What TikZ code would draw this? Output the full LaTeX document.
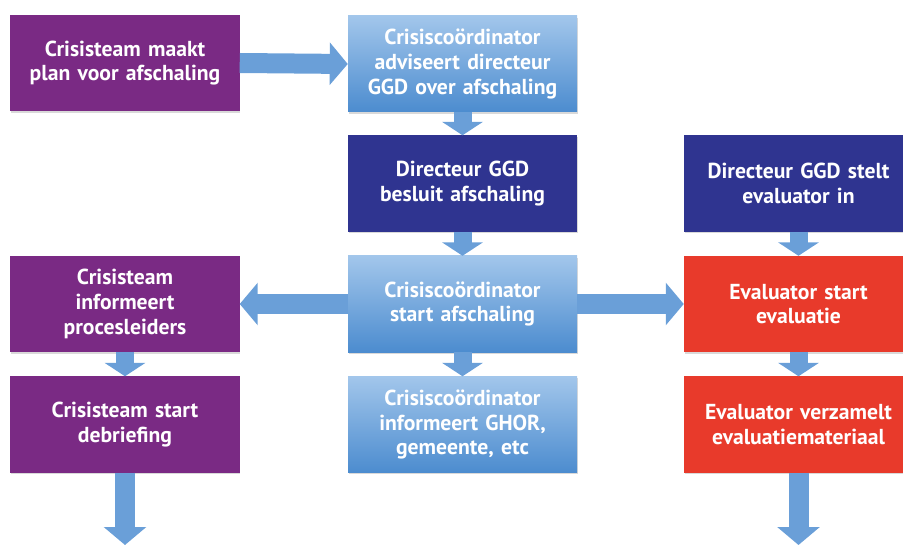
\documentclass[tikz,border=0pt]{standalone}
\usepackage{fontspec}
\setmainfont{PT Sans}
\usetikzlibrary{arrows.meta,shadows}

\definecolor{teampaars}{HTML}{7A2A84}
\definecolor{ggdblauw}{HTML}{2F3490}
\definecolor{evalrood}{HTML}{E83A2B}
\definecolor{coordboven}{HTML}{A2C6EB}
\definecolor{coordonder}{HTML}{4C8CCF}
\definecolor{pijlblauw}{HTML}{6A9FD8}

\tikzset{
  blok/.style={minimum width=6.87cm, minimum height=2.88cm, inner sep=0pt,
    text width=6.6cm, align=center, text=white,
    font=\bfseries\fontsize{18.5}{21}\selectfont,
    drop shadow={shadow xshift=0.5pt, shadow yshift=-1.5pt, opacity=.3}},
  team/.style={blok, fill=teampaars},
  directeur/.style={blok, fill=ggdblauw},
  evaluator/.style={blok, fill=evalrood},
  coord/.style={blok, top color=coordboven, bottom color=coordonder},
  pijl/.style={line width=0.6cm, draw=pijlblauw, -{Triangle[length=0.54cm,width=1.25cm]}},
  pijlkort/.style={line width=0.54cm, draw=pijlblauw, -{Triangle[length=0.4cm,width=1.2cm]}}
}

\begin{document}
\begin{tikzpicture}[x=0.03cm,y=-0.03cm]
 \useasboundingbox (0,0) rectangle (903,545);

 % linker kolom
 \node[team] (plan) at (125,63) {Crisisteam maakt\\plan voor afschaling};
 \node[team] (informeert) at (125,304) {Crisisteam\\informeert\\procesleiders};
 \node[team] (debriefing) at (125,424.5) {Crisisteam start\\debriefing};

 % middelste kolom
 \node[coord] (advies) at (462.5,64) {Crisiscoördinator\\adviseert directeur\\GGD over afschaling};
 \node[directeur] (besluit) at (462.5,183.5) {Directeur GGD\\besluit afschaling};
 \node[coord] (start) at (462.5,304) {Crisiscoördinator\\start afschaling};
 \node[coord] (ghor) at (462.5,424.5) {Crisiscoördinator\\informeert GHOR,\\gemeente, etc};

 % rechter kolom
 \node[directeur] (stelt) at (798.5,183.5) {Directeur GGD stelt\\evaluator in};
 \node[evaluator] (evaluatie) at (798.5,304) {Evaluator start\\evaluatie};
 \node[evaluator] (materiaal) at (798.5,424.5) {Evaluator verzamelt\\evaluatiemateriaal};

 \coordinate (eindlinks) at (125,545);
 \coordinate (eindrechts) at (798.5,545);

 % pijlen
 \draw[pijl] (plan.east) -- (advies.west);
 \draw[pijl] (start.west) -- (informeert.east);
 \draw[pijl] (start.east) -- (evaluatie.west);
 \draw[pijlkort] (advies.south) -- (besluit.north);
 \draw[pijlkort] (besluit.south) -- (start.north);
 \draw[pijlkort] (start.south) -- (ghor.north);
 \draw[pijlkort] (informeert.south) -- (debriefing.north);
 \draw[pijlkort] (stelt.south) -- (evaluatie.north);
 \draw[pijlkort] (evaluatie.south) -- (materiaal.north);
 \draw[pijl] (debriefing.south) -- (eindlinks);
 \draw[pijl] (materiaal.south) -- (eindrechts);
\end{tikzpicture}
\end{document}
